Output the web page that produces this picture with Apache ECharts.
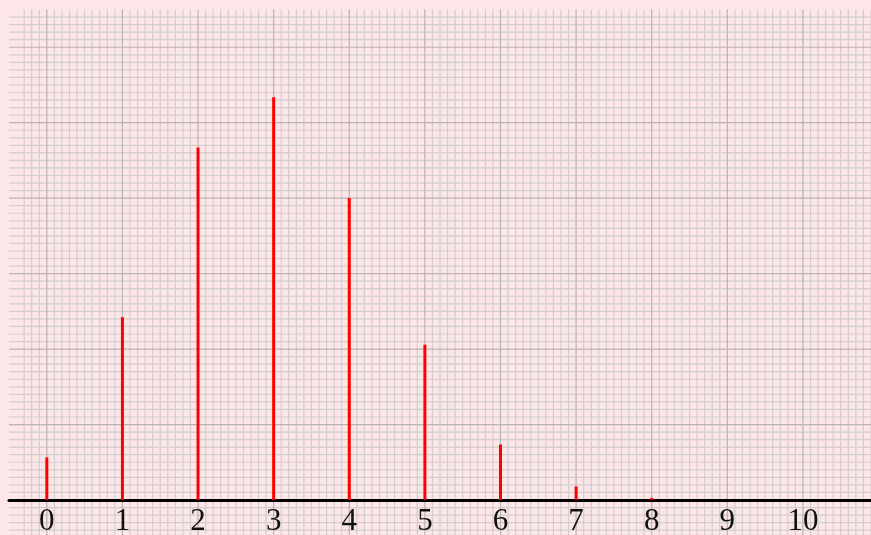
<!DOCTYPE html>
<html>
<head>
<meta charset="utf-8">
<script src="https://cdn.jsdelivr.net/npm/echarts@6/dist/echarts.min.js"></script>
<style>
  html, body { margin: 0; padding: 0; background: #fde6e7; }
  #chart { width: 871px; height: 535px; }
</style>
</head>
<body>
<div id="chart"></div>
<script>
// Binomial pmf, n = 10, p = 0.3
const categories = [0, 1, 2, 3, 4, 5, 6, 7, 8, 9, 10];
const probabilities = [0.0282, 0.1211, 0.2335, 0.2668, 0.2001, 0.1029, 0.0368, 0.0090, 0.0014, 0.0001, 0.0000];
const tickLabels = ['0', '1', '2', '3', '4', '5', '6', '7', '8', '9', '10'];

// Plotting window in data units; the paper continues below y = 0
const X_MIN = -0.5, X_MAX = 10.9;
const Y_MIN = 0, Y_MAX = 0.325;
const PAPER_BOTTOM = -0.0235;

// Graph-paper spacing: majors every 1 (x) / 0.05 (y), ten minors per major
const X_MINOR = 0.1, Y_MINOR = 0.005;

function paperGrid(params, api) {
  const children = [];
  const minorStyle = { stroke: '#d2cdce', lineWidth: 1.2 };
  const majorStyle = { stroke: '#b9b3b3', lineWidth: 1.2 };
  // vertical lines
  for (let k = Math.ceil((X_MIN + 1e-9) / X_MINOR) + 1; k * X_MINOR <= X_MAX + 1e-9; k++) {
    const x = k * X_MINOR;
    const p0 = api.coord([x, Y_MAX]);
    const p1 = api.coord([x, PAPER_BOTTOM]);
    const major = k % 10 === 0;
    children.push({
      type: 'line',
      shape: { x1: p0[0], y1: p0[1], x2: p1[0], y2: p1[1] },
      style: major ? majorStyle : minorStyle,
      z2: major ? 2 : 1
    });
  }
  // horizontal lines
  for (let k = Math.ceil(PAPER_BOTTOM / Y_MINOR); k * Y_MINOR <= Y_MAX - 0.004; k++) {
    const y = k * Y_MINOR;
    const p0 = api.coord([X_MIN, y]);
    const p1 = api.coord([X_MAX, y]);
    const major = k % 10 === 0;
    children.push({
      type: 'line',
      shape: { x1: p0[0], y1: p0[1], x2: p1[0], y2: p1[1] },
      style: major ? majorStyle : minorStyle,
      z2: major ? 2 : 1
    });
  }
  return { type: 'group', children: children };
}

const chart = echarts.init(document.getElementById('chart'), null, { renderer: 'canvas' });

chart.setOption({
  animation: false,
  backgroundColor: '#fde6e7',
  grid: { left: 9, right: 0, top: 9.5, bottom: 35, containLabel: false, outerBoundsMode: 'none' },
  xAxis: {
    type: 'value',
    min: X_MIN,
    max: X_MAX,
    z: 2,
    axisLine: { show: true, onZero: false, lineStyle: { color: '#000', width: 3 } },
    axisTick: { show: false },
    splitLine: { show: false },
    axisLabel: {
      customValues: categories,
      formatter: function (v) { return tickLabels[categories.indexOf(Math.round(v))]; },
      fontFamily: 'Liberation Serif',
      fontSize: 31,
      color: '#111',
      margin: 6
    }
  },
  yAxis: {
    type: 'value',
    min: Y_MIN,
    max: Y_MAX,
    show: false,
    splitLine: { show: false }
  },
  series: [
    {
      type: 'custom',
      silent: true,
      z: 1,
      clip: false,
      renderItem: paperGrid,
      data: [[0, 0]]
    },
    {
      type: 'bar',
      barWidth: 3,
      z: 3,
      itemStyle: { color: '#ff0000' },
      data: categories.map(function (c, i) { return [c, probabilities[i]]; })
    }
  ]
});
</script>
</body>
</html>
